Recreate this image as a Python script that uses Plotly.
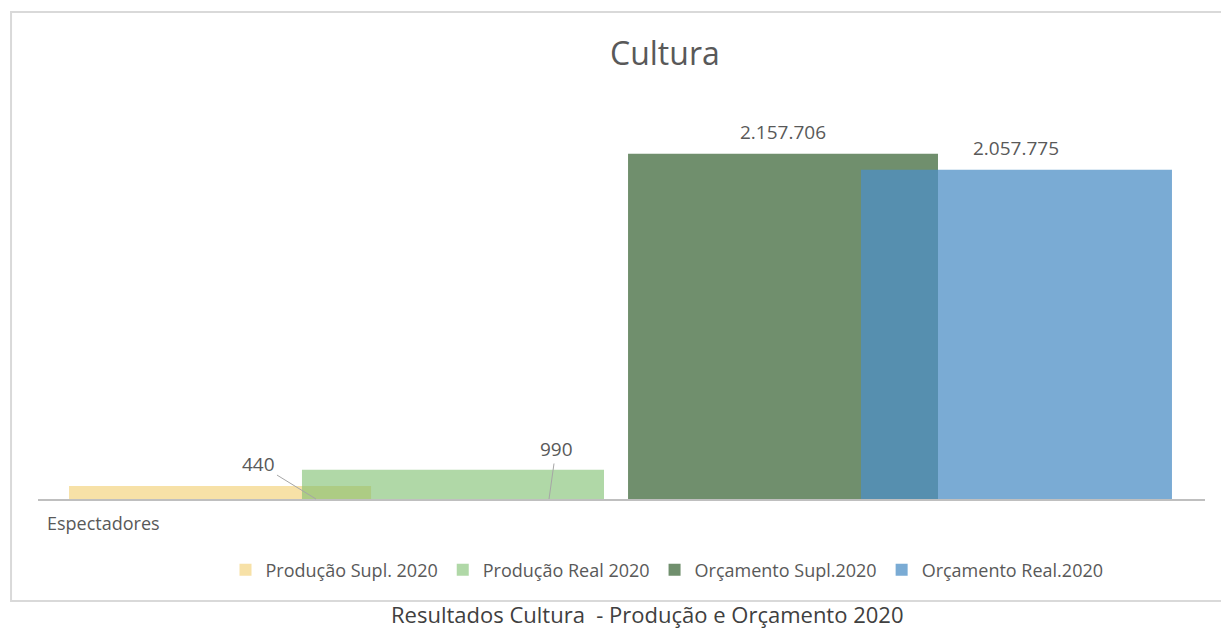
import plotly.graph_objects as go

# Data
category = ["Espectadores"]
series_names = ["Produção Supl. 2020", "Produção Real 2020",
                "Orçamento Supl.2020", "Orçamento Real.2020"]
values = [440, 990, 2157706, 2057775]

# Styling
bar_colors = ["rgba(240,196,80,0.5)", "rgba(123,190,108,0.6)",
              "rgba(112,143,109,1)", "rgba(78,143,198,0.75)"]
axes = ["y2", "y2", "y", "y"]
offsets = [-0.4734, -0.2738, 0.0056, 0.2052]
widths = [0.2588, 0.2588, 0.2656, 0.2665]

TXT = "#595959"
FONT = "Open Sans, sans-serif"


def fmt(v):
    return f"{v:,}".replace(",", ".")


fig = go.Figure()
for name, v, c, ax, off, w in zip(series_names, values, bar_colors, axes, offsets, widths):
    fig.add_trace(go.Bar(
        x=category, y=[v], name=name, yaxis=ax,
        offset=off, width=w,
        marker=dict(color=c, line=dict(width=0)),
    ))

annotations = []
# Large values: labels centred above the bars
for i in (2, 3):
    annotations.append(dict(
        x=offsets[i] + widths[i] / 2, y=values[i], xref="x", yref="y",
        text=fmt(values[i]), showarrow=False, yanchor="bottom", yshift=7,
        font=dict(size=19, color=TXT, family=FONT),
    ))
# Small values: labels with leader lines
annotations.append(dict(
    x=-0.2618, y=0, xref="x", yref="y2", text=fmt(values[0]),
    showarrow=True, arrowhead=0, arrowwidth=1, arrowcolor="#A6A6A6",
    ax=-57, ay=-35, font=dict(size=19, color=TXT, family=FONT),
))
annotations.append(dict(
    x=-0.0621, y=0, xref="x", yref="y2", text=fmt(values[1]),
    showarrow=True, arrowhead=0, arrowwidth=1, arrowcolor="#A6A6A6",
    ax=7, ay=-50, font=dict(size=19, color=TXT, family=FONT),
))
# Title, category label, caption
annotations.append(dict(
    x=0.537, y=1.1175, xref="paper", yref="paper", text="Cultura",
    showarrow=False, xanchor="center", yanchor="middle",
    font=dict(size=32, color=TXT, family=FONT),
))
annotations.append(dict(
    x=0.006, y=-0.06, xref="paper", yref="paper", text=category[0],
    showarrow=False, xanchor="left", yanchor="middle",
    font=dict(size=18, color=TXT, family=FONT),
))
annotations.append(dict(
    x=0.5219, y=-0.2875, xref="paper", yref="paper",
    text="Resultados Cultura\u00a0 - Produção e Orçamento 2020",
    showarrow=False, xanchor="center", yanchor="middle", borderpad=0,
    font=dict(size=22, color="#404040", family=FONT),
))

fig.update_layout(
    width=1221, height=629,
    margin=dict(l=38, r=16, t=99, b=130),
    paper_bgcolor="white", plot_bgcolor="white",
    barmode="overlay",
    separators=",.",
    font=dict(family=FONT, color=TXT),
    showlegend=True,
    legend=dict(
        orientation="h", x=0.539, xanchor="center", y=-0.1775, yanchor="middle",
        font=dict(size=18, color=TXT, family=FONT),
        itemwidth=30, tracegroupgap=0,
    ),
    xaxis=dict(
        range=[-0.5, 0.5], showticklabels=False, showgrid=False, zeroline=False,
        showline=True, linecolor="#BFBFBF", linewidth=2, ticks="",
    ),
    yaxis=dict(range=[0, 2500000], visible=False, showgrid=False),
    yaxis2=dict(range=[0, 13500], overlaying="y", visible=False, showgrid=False),
    annotations=annotations,
    shapes=[dict(
        type="rect", xref="paper", yref="paper",
        x0=-0.0231, x1=1.06, y0=-0.255, y1=1.2175,
        line=dict(color="#D9D9D9", width=2), fillcolor="rgba(0,0,0,0)",
        layer="below",
    )],
)

fig.write_html("out.html")
